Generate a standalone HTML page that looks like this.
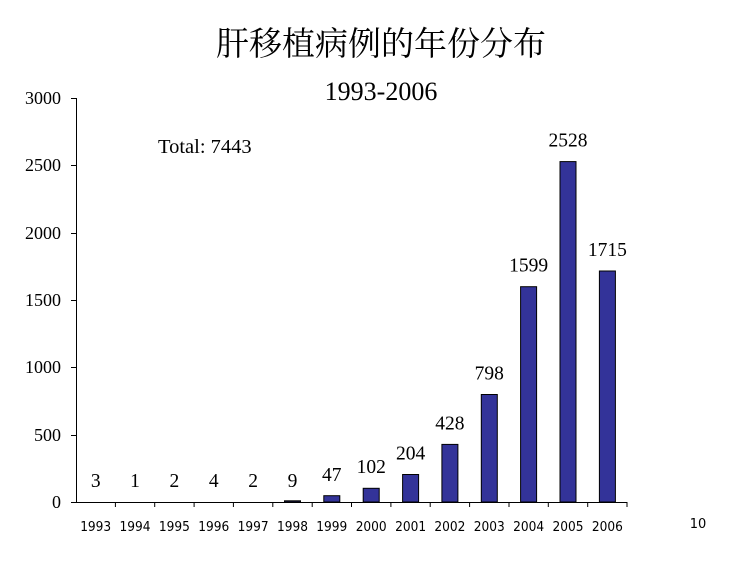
<!DOCTYPE html>
<html><head><meta charset="utf-8"><style>
body{margin:0;background:#fff;}
</style></head><body>
<svg width="749" height="560" xmlns="http://www.w3.org/2000/svg" font-family="'Liberation Serif','Noto Serif CJK SC',serif">
<text x="381" y="55" font-size="33" text-anchor="middle" font-family="'Liberation Serif','Noto Serif CJK SC','Noto Sans CJK SC',serif">肝移植病例的年份分布</text>
<text x="381" y="100" font-size="26" text-anchor="middle">1993-2006</text>
<text x="158" y="153" font-size="20.5">Total: 7443</text>
<g stroke="#000" stroke-width="1">
<line x1="76.5" y1="98" x2="76.5" y2="502"/>
<line x1="76" y1="502.5" x2="627" y2="502.5"/>
<line x1="71" y1="98.5" x2="76" y2="98.5"/>
<line x1="71" y1="165.5" x2="76" y2="165.5"/>
<line x1="71" y1="233.5" x2="76" y2="233.5"/>
<line x1="71" y1="300.5" x2="76" y2="300.5"/>
<line x1="71" y1="367.5" x2="76" y2="367.5"/>
<line x1="71" y1="435.5" x2="76" y2="435.5"/>
<line x1="71" y1="502.5" x2="76" y2="502.5"/>
<line x1="115.4" y1="502" x2="115.4" y2="507"/>
<line x1="154.7" y1="502" x2="154.7" y2="507"/>
<line x1="194.1" y1="502" x2="194.1" y2="507"/>
<line x1="233.4" y1="502" x2="233.4" y2="507"/>
<line x1="272.8" y1="502" x2="272.8" y2="507"/>
<line x1="312.2" y1="502" x2="312.2" y2="507"/>
<line x1="351.5" y1="502" x2="351.5" y2="507"/>
<line x1="390.9" y1="502" x2="390.9" y2="507"/>
<line x1="430.2" y1="502" x2="430.2" y2="507"/>
<line x1="469.6" y1="502" x2="469.6" y2="507"/>
<line x1="509" y1="502" x2="509" y2="507"/>
<line x1="548.3" y1="502" x2="548.3" y2="507"/>
<line x1="587.7" y1="502" x2="587.7" y2="507"/>
<line x1="627" y1="502" x2="627" y2="507"/>
</g>
<g font-size="18" text-anchor="end">
<text x="61" y="104">3000</text><text x="61" y="171">2500</text><text x="61" y="239">2000</text>
<text x="61" y="306">1500</text><text x="61" y="373">1000</text><text x="61" y="441">500</text><text x="61" y="508">0</text>
</g>
<g fill="#333399" stroke="#000" stroke-width="1">
<rect x="284.5" y="500.8" width="16" height="1.2"/>
<rect x="323.8" y="495.7" width="16" height="6.3"/>
<rect x="363.2" y="488.3" width="16" height="13.7"/>
<rect x="402.6" y="474.5" width="16" height="27.5"/>
<rect x="441.9" y="444.4" width="16" height="57.6"/>
<rect x="481.3" y="394.5" width="16" height="107.5"/>
<rect x="520.6" y="286.7" width="16" height="215.3"/>
<rect x="560" y="161.6" width="16" height="340.4"/>
<rect x="599.4" y="271" width="16" height="231"/>
</g>
<g font-size="19.5" text-anchor="middle">
<text x="95.7" y="487">3</text>
<text x="135" y="487">1</text>
<text x="174.4" y="487">2</text>
<text x="213.8" y="487">4</text>
<text x="253.1" y="487">2</text>
<text x="292.5" y="487">9</text>
<text x="331.8" y="481">47</text>
<text x="371.2" y="473">102</text>
<text x="410.6" y="459.5">204</text>
<text x="449.9" y="429.4">428</text>
<text x="489.3" y="379.5">798</text>
<text x="528.6" y="271.7">1599</text>
<text x="568" y="146.6">2528</text>
<text x="607.4" y="256">1715</text>
</g>
<g font-size="13" text-anchor="middle" font-family="'DejaVu Sans','Liberation Sans',sans-serif">
<text x="95.7" y="531" textLength="31" lengthAdjust="spacingAndGlyphs">1993</text>
<text x="135" y="531" textLength="31" lengthAdjust="spacingAndGlyphs">1994</text>
<text x="174.4" y="531" textLength="31" lengthAdjust="spacingAndGlyphs">1995</text>
<text x="213.8" y="531" textLength="31" lengthAdjust="spacingAndGlyphs">1996</text>
<text x="253.1" y="531" textLength="31" lengthAdjust="spacingAndGlyphs">1997</text>
<text x="292.5" y="531" textLength="31" lengthAdjust="spacingAndGlyphs">1998</text>
<text x="331.8" y="531" textLength="31" lengthAdjust="spacingAndGlyphs">1999</text>
<text x="371.2" y="531" textLength="31" lengthAdjust="spacingAndGlyphs">2000</text>
<text x="410.6" y="531" textLength="31" lengthAdjust="spacingAndGlyphs">2001</text>
<text x="449.9" y="531" textLength="31" lengthAdjust="spacingAndGlyphs">2002</text>
<text x="489.3" y="531" textLength="31" lengthAdjust="spacingAndGlyphs">2003</text>
<text x="528.6" y="531" textLength="31" lengthAdjust="spacingAndGlyphs">2004</text>
<text x="568" y="531" textLength="31" lengthAdjust="spacingAndGlyphs">2005</text>
<text x="607.4" y="531" textLength="31" lengthAdjust="spacingAndGlyphs">2006</text>
</g>
<text x="698" y="528" font-size="13" text-anchor="middle" font-family="'DejaVu Sans','Liberation Sans',sans-serif">10</text>
</svg>
</body></html>
